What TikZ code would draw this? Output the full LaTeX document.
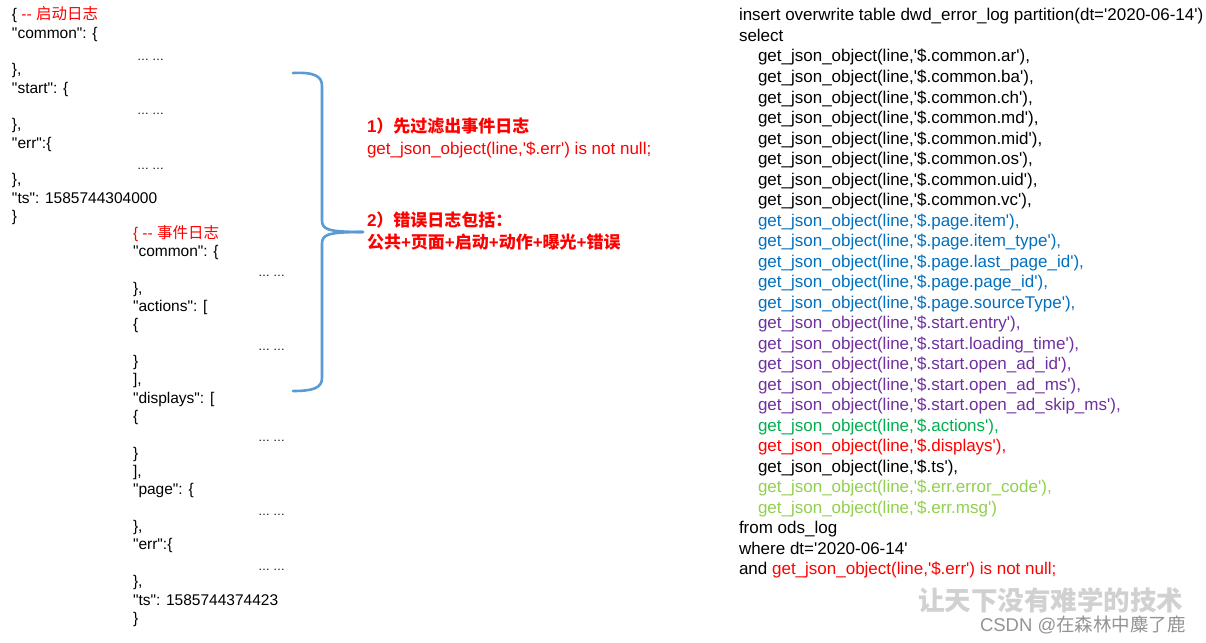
\documentclass[tikz,border=0pt]{standalone}
\usepackage{fontspec}
\newfontfamily\af{Liberation Sans}
\newfontfamily\cjk{Noto Sans CJK SC}
\definecolor{cblue}{HTML}{0070C0}
\definecolor{cpurple}{HTML}{7030A0}
\definecolor{cgreen}{HTML}{00B050}
\definecolor{clgreen}{HTML}{92D050}
\definecolor{cred}{HTML}{FF0000}
\definecolor{bracec}{HTML}{5B9BD5}
\newcommand\gjo{get\_json\_object(line,'\$.}
\newcommand\dts{…\hspace{3pt}…}
\begin{document}
\begin{tikzpicture}[x=1pt,y=-1pt,
  every node/.style={inner sep=0pt,outer sep=0pt,anchor=base west},
  lt/.style={font=\af\fontsize{15.5}{18}\selectfont},
  dt/.style={font=\af\fontsize{12}{14}\selectfont},
  rt/.style={font=\af\fontsize{17}{20}\selectfont},
  mh/.style={font=\cjk\bfseries\fontsize{17}{20}\selectfont,text=cred},
  brace/.style={draw=bracec,line width=2.6pt,line cap=round,line join=round}]
\useasboundingbox[fill=white] (0,0) rectangle (1206,642);

% ---- left block: start log
\node[lt] (a0) at (12,20) {\{ {\color{cred}-- {\cjk 启动日志}}};
\node[lt] (a1) at (12,38.3) {"common": \{};
\node[dt] (a2) at (137,60) {\dts};
\node[lt] (a3) at (12,74.9) {\},};
\node[lt] (a4) at (12,93.2) {"start": \{};
\node[dt] (a5) at (137,114) {\dts};
\node[lt] (a6) at (12,129.8) {\},};
\node[lt] (a7) at (12,148.1) {"err":\{};
\node[dt] (a8) at (137,169) {\dts};
\node[lt] (a9) at (12,184.7) {\},};
\node[lt] (a10) at (12,203) {"ts": 1585744304000};
\node[lt] (a11) at (12,221.3) {\}};

% ---- second block: event log
\node[lt,text=cred] (b0) at (133,238) {\{ -- {\cjk 事件日志}};
\node[lt] (b1) at (133,{238+18.35*1}) {"common": \{};
\node[dt] (b2) at (258,{240+18.35*2}) {\dts};
\node[lt] (b3) at (133,{238+18.35*3}) {\},};
\node[lt] (b4) at (133,{238+18.35*4}) {"actions": [};
\node[lt] (b5) at (133,{238+18.35*5}) {\{};
\node[dt] (b6) at (258,{240+18.35*6}) {\dts};
\node[lt] (b7) at (133,{238+18.35*7}) {\}};
\node[lt] (b8) at (133,{238+18.35*8}) {],};
\node[lt] (b9) at (133,{238+18.35*9}) {"displays": [};
\node[lt] (b10) at (133,{238+18.35*10}) {\{};
\node[dt] (b11) at (258,{240+18.35*11}) {\dts};
\node[lt] (b12) at (133,{238+18.35*12}) {\}};
\node[lt] (b13) at (133,{238+18.35*13}) {],};
\node[lt] (b14) at (133,{238+18.35*14}) {"page": \{};
\node[dt] (b15) at (258,{240+18.35*15}) {\dts};
\node[lt] (b16) at (133,{238+18.35*16}) {\},};
\node[lt] (b17) at (133,{238+18.35*17}) {"err":\{};
\node[dt] (b18) at (258,{240+18.35*18}) {\dts};
\node[lt] (b19) at (133,{238+18.35*19}) {\},};
\node[lt] (b20) at (133,{238+18.35*20}) {"ts": 1585744374423};
\node[lt] (b21) at (133,{238+18.35*21}) {\}};

% ---- brace
\coordinate (bt) at (293,73);
\coordinate (btip) at (363,232);
\coordinate (bb) at (293,391);
\draw[brace] (bt) .. controls (314,72) and (322,76) .. (322,86) -- (322,220)
  .. controls (322,229) and (326,232) .. (btip);
\draw[brace] (btip) .. controls (326,232) and (322,235) .. (322,244) -- (322,378)
  .. controls (322,388) and (313,391) .. (bb);

% ---- middle notes
\node[mh] (m1) at (367,132) {{\af\bfseries 1}）先过滤出事件日志};
\node[rt,text=cred] (m2) at (367,154) {\gjo err') is not null;};
\node[mh] (m3) at (367,226) {{\af\bfseries 2}）错误日志包括：};
\node[mh] (m4) at (367,248) {公共{\af\bfseries +}页面{\af\bfseries +}启动{\af\bfseries +}动作{\af\bfseries +}曝光{\af\bfseries +}错误};

% ---- right column: SQL
\node[rt] (r0) at (739,21) {insert overwrite table dwd\_error\_log partition(dt='2020-06-14')};
\node[rt] (r1) at (739,{21+20.5*1}) {select};
\node[rt] (r2) at (758,{21+20.5*2}) {\gjo common.ar'),};
\node[rt] (r3) at (758,{21+20.5*3}) {\gjo common.ba'),};
\node[rt] (r4) at (758,{21+20.5*4}) {\gjo common.ch'),};
\node[rt] (r5) at (758,{21+20.5*5}) {\gjo common.md'),};
\node[rt] (r6) at (758,{21+20.5*6}) {\gjo common.mid'),};
\node[rt] (r7) at (758,{21+20.5*7}) {\gjo common.os'),};
\node[rt] (r8) at (758,{21+20.5*8}) {\gjo common.uid'),};
\node[rt] (r9) at (758,{21+20.5*9}) {\gjo common.vc'),};
\node[rt,text=cblue] (r10) at (758,{21+20.5*10}) {\gjo page.item'),};
\node[rt,text=cblue] (r11) at (758,{21+20.5*11}) {\gjo page.item\_type'),};
\node[rt,text=cblue] (r12) at (758,{21+20.5*12}) {\gjo page.last\_page\_id'),};
\node[rt,text=cblue] (r13) at (758,{21+20.5*13}) {\gjo page.page\_id'),};
\node[rt,text=cblue] (r14) at (758,{21+20.5*14}) {\gjo page.sourceType'),};
\node[rt,text=cpurple] (r15) at (758,{21+20.5*15}) {\gjo start.entry'),};
\node[rt,text=cpurple] (r16) at (758,{21+20.5*16}) {\gjo start.loading\_time'),};
\node[rt,text=cpurple] (r17) at (758,{21+20.5*17}) {\gjo start.open\_ad\_id'),};
\node[rt,text=cpurple] (r18) at (758,{21+20.5*18}) {\gjo start.open\_ad\_ms'),};
\node[rt,text=cpurple] (r19) at (758,{21+20.5*19}) {\gjo start.open\_ad\_skip\_ms'),};
\node[rt,text=cgreen] (r20) at (758,{21+20.5*20}) {\gjo actions'),};
\node[rt,text=cred] (r21) at (758,{21+20.5*21}) {\gjo displays'),};
\node[rt] (r22) at (758,{21+20.5*22}) {\gjo ts'),};
\node[rt,text=clgreen] (r23) at (758,{21+20.5*23}) {\gjo err.error\_code'),};
\node[rt,text=clgreen] (r24) at (758,{21+20.5*24}) {\gjo err.msg')};
\node[rt] (r25) at (739,{21+20.5*25}) {from ods\_log};
\node[rt] (r26) at (739,{21+20.5*26}) {where dt='2020-06-14'};
\node[rt] (r27) at (739,{21+20.5*27}) {and {\color{cred}\gjo err') is not null;}};

% ---- watermark
\node[font=\cjk\bfseries\fontsize{26.5}{30}\selectfont,text=black!18] (w1) at (918,610) {让天下没有难学的技术};
\node[font=\af\fontsize{18.5}{22}\selectfont,text=black!42] (w2) at (980,631) {CSDN @{\cjk 在森林中麋了鹿}};
\end{tikzpicture}
\end{document}
